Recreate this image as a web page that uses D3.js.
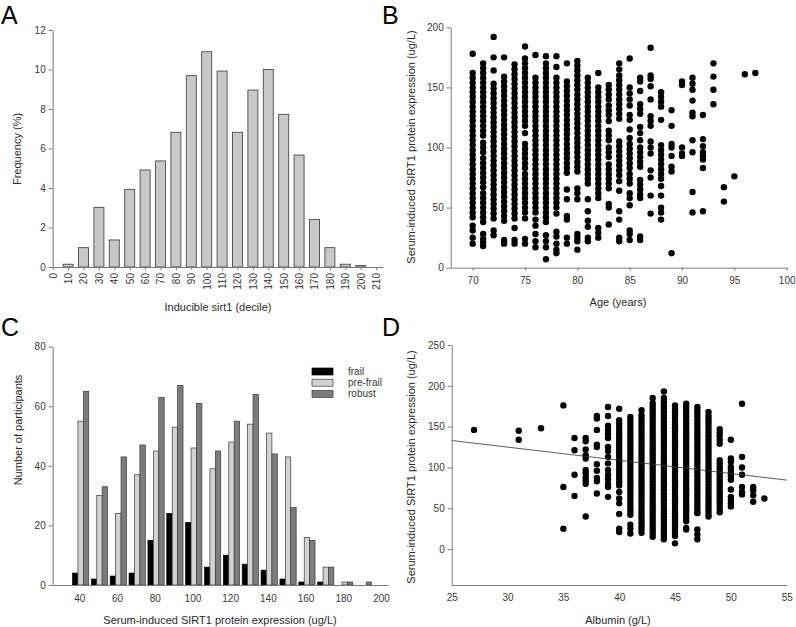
<!DOCTYPE html>
<html><head><meta charset="utf-8">
<script src="https://cdn.jsdelivr.net/npm/d3@7"></script>
<style>body{margin:0;background:#fff} svg text{font-family:"Liberation Sans",Arial,sans-serif}</style>
</head><body><svg id="c" width="796" height="627"></svg>
<script>
// ---------- Panel A data ----------
const aTicks = [0,10,20,30,40,50,60,70,80,90,100,110,120,130,140,150,160,170,180,190,200,210];
const aDeciles = [10,20,30,40,50,60,70,80,90,100,110,120,130,140,150,160,170,180,190,200];
const aFreq = [0.14,0.98,3.02,1.37,3.93,4.91,5.37,6.82,9.69,10.9,9.92,6.82,8.96,10.0,7.73,5.67,2.41,0.98,0.14,0.07];
const aYTicks = [0,2,4,6,8,10,12];

// ---------- Panel B data ----------
const bAges = [70,71,72,73,74,75,76,77,78,79,80,81,82,83,84,85,86,87,88,89,90,91,92,93,94,95,96,97];
const bValues = [
 [178,162,158,154,150,146,142,138,134,130,126,122,118,114,110,106,102,98,94,90,86,82,78,74,70,66,62,58,54,50,46,42,35,31,25,20],
 [170,166,162,158,154,150,146,142,138,134,130,126,122,118,114,110,104,100,96,91,87,83,79,75,71,67,62,58,54,50,46,42,38,28,24,21,18],
 [192,175,164,153,149,145,141,137,133,129,125,121,117,113,109,105,101,97,93,89,85,81,77,73,69,65,61,57,53,49,45,41,31,27],
 [175,159,155,151,147,143,139,135,131,127,123,119,115,111,107,103,99,95,91,87,83,79,75,71,67,63,59,55,51,47,43,39,23,20],
 [169,165,161,157,153,149,145,141,137,133,129,125,121,117,113,109,105,101,97,93,89,85,81,77,73,69,65,61,57,53,49,45,41,33,23,20],
 [184,174,170,166,162,158,154,150,146,142,138,134,130,126,122,118,112,103,99,95,91,87,83,78,74,70,66,62,58,54,50,46,41,24,20],
 [177,158,154,150,146,142,138,134,130,126,122,118,114,110,106,102,98,94,90,86,82,78,74,70,66,62,58,54,50,46,40,35,28,22,17],
 [176,170,166,162,158,154,150,146,142,138,134,130,126,122,118,114,110,106,102,98,94,90,86,82,78,74,70,66,62,58,54,50,46,42,38,27,22,17,7],
 [176,167,158,154,150,146,142,138,134,130,126,122,118,114,110,106,102,98,94,90,86,82,78,74,70,66,62,58,54,50,45,30,26,20,15,12],
 [170,155,151,147,143,139,135,131,127,123,119,115,111,107,103,99,95,91,87,83,79,65,57,43,40,25,20],
 [172,168,164,160,156,152,148,144,140,136,132,128,124,120,116,112,108,104,100,96,92,88,84,80,66,62,57,28,25,22,15],
 [158,154,150,146,142,138,134,130,126,122,118,114,110,106,102,98,94,90,86,82,78,74,70,57,47,39,34,25,22],
 [162,150,146,142,138,134,130,126,122,118,114,110,106,102,98,94,90,86,82,78,74,70,66,62,58,33,29,25],
 [152,148,144,140,135,131,127,122,114,110,106,100,96,92,86,82,78,74,70,66,53,50,36],
 [170,165,160,156,152,148,144,140,136,132,128,124,105,101,97,93,89,85,81,77,72,64,47,40,25,22],
 [174,150,145,140,135,127,123,115,108,103,99,95,91,87,83,78,74,70,62,58,52,31,28,23],
 [158,155,147,136,132,128,117,112,106,100,96,92,88,84,73,69,65,61,58,26,23],
 [183,160,157,151,140,126,122,118,105,100,95,81,75,60,45],
 [146,142,138,134,123,102,98,94,90,86,82,78,74,68,60,50,46,40],
 [131,118,103,100,93,84,80,12],
 [155,152,100,95,93],
 [158,153,148,139,129,126,106,96,63,46],
 [127,107,101,96,93,90,83,47],
 [170,159,148,136],
 [67,55],
 [76],
 [161],
 [162]
];
const bXTicks = [70,75,80,85,90,95,100];
const bYTicks = [0,50,100,150,200];

// ---------- Panel C data ----------
const cBins = [40,50,60,70,80,90,100,110,120,130,140,150,160,170,180,190];
const cFrail    = [4,2,3,4,15,24,21,6,10,7,5,2,1,1,0,0];
const cPreFrail = [55,30,24,37,45,53,46,39,48,54,51,43,16,6,1,0];
const cRobust   = [65,33,43,47,63,67,61,45,55,64,44,26,15,6,1,1];
const cGroups = ["frail","pre-frail","robust"];
const cXTicks = [40,60,80,100,120,140,160,180,200];
const cYTicks = [0,20,40,60,80];

// ---------- Panel D data ----------
const dAlbumin = [27,31,33,35,36,37,38,39,40,41,42,43,44,45,46,47,48,49,50,51,52,53];
const dValues = [
 [146],
 [145,134],
 [148],
 [176,76,25],
 [136,121,91,65],
 [136,132,122,115,111,97,93,88,84,80,40],
 [163,160,146,128,125,104,96,87,83,68],
 [174,163,151,146,141,136,125,120,113,105,97,91,86,80,76,64],
 [172,158,154,150,146,142,138,134,130,126,122,118,114,110,106,102,98,94,90,86,82,78,70,62,56,43,25,21],
 [162,158,154,150,146,142,138,134,130,126,122,118,114,110,106,102,98,94,90,86,82,78,74,70,66,62,58,54,50,46,42,30,25,19],
 [170,164,160,156,152,148,144,140,136,132,128,124,120,116,112,108,104,100,96,92,88,84,80,76,72,68,64,60,56,52,48,44,40,36,32,28,24,20],
 [185,179,175,171,167,163,159,155,151,147,143,139,135,131,127,123,119,115,111,107,103,99,95,91,87,83,79,75,71,67,63,59,55,51,47,43,39,35,31,27,23,19,15],
 [193,185,180,176,172,168,164,160,156,152,148,144,140,136,132,128,124,120,116,112,108,104,100,96,92,88,84,80,76,72,68,64,60,56,52,48,44,40,36,32,28,24,20,16,12],
 [176,172,168,164,160,156,152,148,144,140,136,132,128,124,120,116,112,108,104,100,96,92,88,84,80,76,72,68,64,60,56,52,48,44,40,36,32,28,24,20,16,7],
 [178,174,170,166,162,158,154,150,146,142,138,134,130,126,122,118,114,110,106,102,98,94,90,86,82,78,74,70,66,62,58,54,50,46,42,38,34,26,24],
 [174,170,166,162,158,154,150,146,142,138,134,130,126,122,118,114,110,106,102,98,94,90,86,82,78,74,70,66,62,58,54,50,46,44,24,18,12],
 [168,163,159,155,151,147,143,139,135,131,127,123,119,115,111,107,103,99,95,91,87,83,79,75,71,67,63,59,55,51,47,43,40],
 [147,143,139,134,129,109,105,101,97,93,89,85,81,77,73,69,65,61,57,53,49,45],
 [134,111,107,101,97,93,89,85,73,64,60,56,52],
 [178,113,100,91,76,70,67],
 [76,72,66,58],
 [62]
];
const dFitX = [25,55];
const dFitY = [133,84.5];
const dXTicks = [25,30,35,40,45,50,55];
const dYTicks = [0,50,100,150,200,250];

// ---------- drawing ----------
const svg = d3.select("#c");
const AX = "#7a7a7a", TXT = "#3a3a3a";

function styleAxis(g, fs) {
  g.select(".domain").attr("stroke", AX).attr("stroke-width", 1);
  g.selectAll(".tick line").attr("stroke", AX);
  g.selectAll(".tick text").attr("fill", TXT).style("font-size", (fs||10) + "px").style("font-family", "Liberation Sans, Arial, sans-serif");
}
function title(x, y, txt, rot) {
  const t = svg.append("text").attr("text-anchor", "middle").attr("fill", "#2a2a2a").style("font-size", "11px").text(txt);
  if (rot) t.attr("transform", `translate(${x},${y}) rotate(-90)`); else t.attr("x", x).attr("y", y);
}
function letter(x, y, t) {
  svg.append("text").attr("x", x).attr("y", y).text(t).style("font-family", "Liberation Sans, Arial, sans-serif").style("font-size", "25px").attr("fill", "#000");
}

// Panel A
{
  const x = d3.scaleLinear().domain([0, 214.5]).range([52.7, 383]);
  const y = d3.scaleLinear().domain([0, 12]).range([267, 30]);
  const bw = 10;
  svg.append("g").selectAll("rect").data(aDeciles).join("rect")
    .attr("x", d => x(d) - bw/2).attr("width", bw)
    .attr("y", (d,i) => y(aFreq[i])).attr("height", (d,i) => y(0) - y(aFreq[i]))
    .attr("fill", "#c8c8c8").attr("stroke", "#4a4a4a").attr("stroke-width", 0.9);
  const gy = svg.append("g").attr("transform", "translate(52.7,0)")
    .call(d3.axisLeft(y).tickValues(aYTicks).tickSize(4).tickSizeOuter(0));
  styleAxis(gy);
  const gx = svg.append("g").attr("transform", "translate(0,267)")
    .call(d3.axisBottom(x).tickValues(aTicks).tickSize(3).tickSizeOuter(0));
  styleAxis(gx);
  gx.selectAll(".tick text").attr("transform", "rotate(-90)").attr("x", -6).attr("y", 0).attr("dy", "0.35em").attr("text-anchor", "end");
  title(21, 149, "Frequency (%)", true);
  title(218, 311, "Inducible sirt1 (decile)");
  letter(1, 24, "A");
}

// Panel B
{
  const x = d3.scaleLinear().domain([67.9, 100]).range([450.7, 786.7]);
  const y = d3.scaleLinear().domain([0, 200]).range([267.7, 27.3]);
  const pts = [];
  bAges.forEach((a, i) => bValues[i].forEach(v => pts.push([a, v])));
  svg.append("g").selectAll("circle").data(pts).join("circle")
    .attr("cx", d => x(d[0])).attr("cy", d => y(d[1])).attr("r", 3.2).attr("fill", "#000");
  const gy = svg.append("g").attr("transform", "translate(450.7,0)")
    .call(d3.axisLeft(y).tickValues(bYTicks).tickSize(4).tickSizeOuter(0));
  styleAxis(gy);
  const gx = svg.append("g").attr("transform", "translate(0,267.7)")
    .call(d3.axisBottom(x).tickValues(bXTicks).tickSize(3).tickSizeOuter(0));
  styleAxis(gx);
  gx.selectAll(".tick text").attr("y", 9);
  title(415, 147, "Serum-induced SIRT1 protein expression (ug/L)", true);
  title(618, 306, "Age (years)");
  letter(382, 24, "B");
}

// Panel C
{
  const x = d3.scaleLinear().domain([25.9, 203.7]).range([52.7, 388]);
  const y = d3.scaleLinear().domain([0, 80]).range([585, 346.7]);
  const series = [cFrail, cPreFrail, cRobust];
  const fills = ["#000000", "#d2d2d2", "#7c7c7c"];
  const bwU = 2.87, off = -3.6;
  series.forEach((s, k) => {
    svg.append("g").selectAll("rect").data(cBins).join("rect")
      .attr("x", d => x(d + off + k*bwU)).attr("width", d => x(d + off + (k+1)*bwU) - x(d + off + k*bwU))
      .attr("y", (d,i) => y(s[i])).attr("height", (d,i) => y(0) - y(s[i]))
      .attr("fill", fills[k]).attr("stroke", k === 0 ? "#000" : "#3a3a3a").attr("stroke-width", 0.7)
      .attr("display", (d,i) => s[i] > 0 ? null : "none");
  });
  const gy = svg.append("g").attr("transform", "translate(52.7,0)")
    .call(d3.axisLeft(y).tickValues(cYTicks).tickSize(4).tickSizeOuter(0));
  styleAxis(gy);
  const gx = svg.append("g").attr("transform", "translate(0,585)")
    .call(d3.axisBottom(x).tickValues(cXTicks).tickSize(0).tickSizeOuter(0));
  styleAxis(gx);
  gx.selectAll(".tick text").attr("y", 10);
  // legend
  const lg = svg.append("g");
  cGroups.forEach((g, k) => {
    lg.append("rect").attr("x", 312).attr("y", 368 + k*11.2).attr("width", 21).attr("height", 7)
      .attr("fill", fills[k]).attr("stroke", k === 0 ? "#000" : "#3a3a3a").attr("stroke-width", 0.7);
    lg.append("text").attr("x", 348).attr("y", 375 + k*11.2).text(g).attr("fill", TXT).style("font-size", "10px");
  });
  title(22, 430, "Number of participants", true);
  title(220, 624, "Serum-induced SIRT1 protein expression (ug/L)");
  letter(1, 336, "C");
}

// Panel D
{
  const x = d3.scaleLinear().domain([25, 55]).range([451.7, 786.7]);
  const y = d3.scaleLinear().domain([-44, 250]).range([585, 345]);
  const pts = [];
  dAlbumin.forEach((a, i) => dValues[i].forEach(v => pts.push([a, v])));
  svg.append("g").selectAll("circle").data(pts).join("circle")
    .attr("cx", d => x(d[0])).attr("cy", d => y(d[1])).attr("r", 3.2).attr("fill", "#000");
  svg.append("line").attr("x1", x(dFitX[0])).attr("y1", y(dFitY[0])).attr("x2", x(dFitX[1])).attr("y2", y(dFitY[1]))
    .attr("stroke", "#333").attr("stroke-width", 0.8);
  const gy = svg.append("g").attr("transform", "translate(451.7,0)")
    .call(d3.axisLeft(y).tickValues(dYTicks).tickSize(4).tickSizeOuter(0));
  styleAxis(gy);
  const gx = svg.append("g").attr("transform", "translate(0,585)")
    .call(d3.axisBottom(x).tickValues(dXTicks).tickSize(0).tickSizeOuter(0));
  styleAxis(gx);
  gx.selectAll(".tick text").attr("y", 9);
  title(415, 467, "Serum-induced SIRT1 protein expression (ug/L)", true);
  title(618, 624, "Albumin (g/L)");
  letter(382, 336, "D");
}
</script></body></html>
